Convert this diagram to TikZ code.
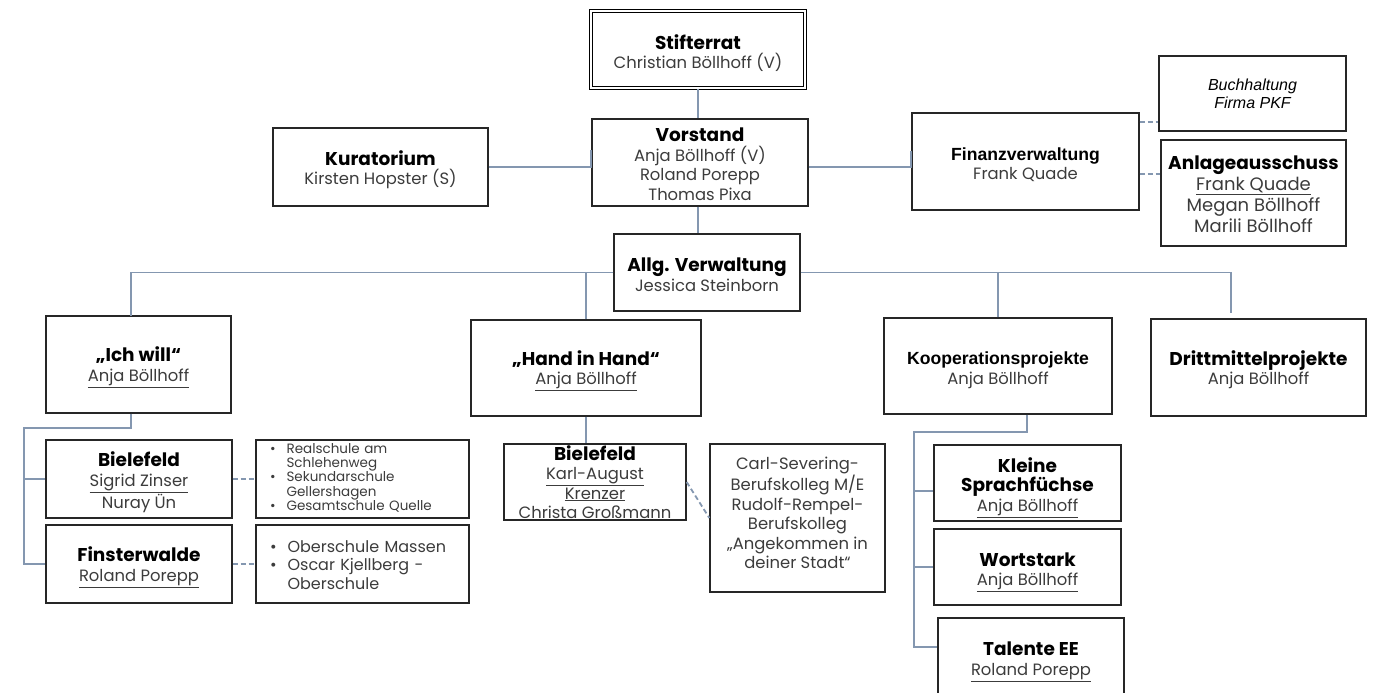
\documentclass[tikz,border=0pt]{standalone}
\usepackage{fontspec}
\setmainfont{Poppins}
\newfontfamily\arialf{Liberation Sans}
\definecolor{lnc}{HTML}{8497B0}
\definecolor{txg}{HTML}{3C3C3C}
\newcommand\tb[1]{{\fontsize{18.5}{19.5}\selectfont\bfseries\color{black}#1}}
\newcommand\ta[1]{{\arialf\fontsize{17.6}{19.5}\selectfont\bfseries\color{black}#1}}
\newcommand\uln[1]{\underline{#1}}
\newcommand\lift[1]{\rule{0pt}{#1}}
\begin{document}
\begin{tikzpicture}[x=1pt,y=-1pt,
  box/.style={draw=black!85, line width=1.3pt, fill=white, inner sep=0pt, align=center, text=txg,
    font=\fontsize{16.4}{19.5}\selectfont},
  conn/.style={draw=lnc, line width=1.8pt},
  dconn/.style={draw=lnc, line width=1.8pt, dash pattern=on 5pt off 3pt},
]
\useasboundingbox (0,0) rectangle (1400,693);
\clip (0,0) rectangle (1400,693);

% nodes
\node[box, draw=black, line width=1pt, double=white, double distance=2pt, minimum width=214, minimum height=77] (stift) at (698,49.5)
  {\lift{22pt}\tb{Stifterrat}\\Christian Böllhoff (V)};
\node[box, minimum width=216, minimum height=87] (vor) at (700,162.5)
  {\lift{17pt}\tb{Vorstand}\\Anja Böllhoff (V)\\Roland Porepp\\Thomas Pixa};
\node[box, minimum width=215, minimum height=78] (kur) at (380.5,167)
  {\lift{20pt}\tb{Kuratorium}\\Kirsten Hopster (S)};
\node[box, minimum width=227, minimum height=97] (fin) at (1025.5,161.5)
  {\lift{19pt}\ta{Finanzverwaltung}\\Frank Quade};
\node[box, minimum width=187, minimum height=75, font=\arialf\itshape\fontsize{16}{18}\selectfont, text=black] (buch) at (1252.5,93.5)
  {Buchhaltung\\Firma PKF};
\node[box, minimum width=185, minimum height=106, font=\fontsize{18}{21}\selectfont] (anl) at (1253.5,193)
  {\lift{16pt}\tb{Anlageausschuss}\\\uln{Frank Quade}\\Megan Böllhoff\\Marili Böllhoff};
\node[box, minimum width=186, minimum height=77] (allg) at (707,272.5)
  {\lift{18pt}\tb{Allg. Verwaltung}\\Jessica Steinborn};

\node[box, minimum width=185, minimum height=97] (ich) at (138.5,364.5)
  {\lift{20pt}\tb{„Ich will“}\\\uln{Anja Böllhoff}};
\node[box, minimum width=230, minimum height=96] (hih) at (586,368)
  {\lift{20pt}\tb{„Hand in Hand“}\\\uln{Anja Böllhoff}};
\node[box, minimum width=228, minimum height=96] (koop) at (998,366)
  {\lift{21pt}\ta{Kooperationsprojekte}\\Anja Böllhoff};
\node[box, minimum width=215, minimum height=97] (dritt) at (1258.5,367.5)
  {\lift{19pt}\tb{Drittmittelprojekte}\\Anja Böllhoff};

\node[box, minimum width=186, minimum height=78] (bie1) at (139,479)
  {\lift{21pt}\tb{Bielefeld}\\\uln{Sigrid Zinser}\\Nuray Ün};
\node[box, minimum width=186, minimum height=78] (fsw) at (139,564)
  {\lift{21pt}\tb{Finsterwalde}\\\uln{Roland Porepp}};
\node[box, minimum width=213, minimum height=78, text width=185, inner xsep=14pt, align=left,
      font=\fontsize{13.5}{14}\selectfont] (list1) at (362.5,479)
  {\begin{tabular}{@{}l@{\hspace{11pt}}l@{}}
   \textbullet & Realschule am\\ & Schlehenweg\\
   \textbullet & Sekundarschule\\ & Gellershagen\\
   \textbullet & Gesamtschule Quelle
   \end{tabular}};
\node[box, minimum width=213, minimum height=78, text width=185, inner xsep=14pt, align=left,
      font=\fontsize{16}{18.5}\selectfont] (list2) at (362.5,564)
  {\begin{tabular}{@{}l@{\hspace{11pt}}l@{}}
   \lift{19pt}\textbullet & Oberschule Massen\\
   \textbullet & Oscar Kjellberg -\\ & Oberschule
   \end{tabular}};

\node[box, minimum width=182, minimum height=76] (bie2) at (595,482)
  {\tb{Bielefeld}\\\uln{Karl-August}\\\uln{Krenzer}\\Christa Großmann};
\node[box, minimum width=175, minimum height=148] (carl) at (797.5,518)
  {\lift{22pt}Carl-Severing-\\Berufskolleg M/E\\Rudolf-Rempel-\\Berufskolleg\\„Angekommen in\\deiner Stadt“\\\mbox{}};

\node[box, minimum width=187, minimum height=76] (klein) at (1027.5,483)
  {\lift{24pt}\tb{Kleine}\\\tb{Sprachfüchse}\\\uln{Anja Böllhoff}};
\node[box, minimum width=187, minimum height=76] (wort) at (1027.5,567)
  {\lift{24pt}\tb{Wortstark}\\\uln{Anja Böllhoff}};
\node[box, minimum width=186, minimum height=80] (tal) at (1031,658)
  {\lift{21pt}\tb{Talente EE}\\\uln{Roland Porepp}};

% coordinates for free ends and buses
\coordinate (ichtop) at (131,316);
\coordinate (dtop) at (1231,313);
\coordinate (lbus) at (24,428);
\coordinate (rbus) at (914,432);

% connectors
\draw[conn] (stift.south) -- (stift.south |- vor.north);
\draw[conn] (vor.south -| stift.south) -- (allg.north -| stift.south);
\draw[conn] (kur.east) -- (kur.east -| vor.west) -- ++(0,-17);
\draw[conn] (vor.east |- kur.east) -- (fin.west |- kur.east) -- ++(0,-16);
\draw[dconn] ([yshift=39.5pt]fin.east) coordinate (f1) -- (f1 -| buch.west);
\draw[dconn] ([yshift=-12.5pt]fin.east) coordinate (f2) -- (f2 -| anl.west);

\draw[conn] (allg.west) -| (ichtop);
\draw[conn] (allg.east) -| (dtop);
\draw[conn] (koop.north) -- (koop.north |- allg.east);
\draw[conn] (hih.north) -- ++(0,-46);

\draw[conn] ([xshift=-7.5pt]ich.south) |- (lbus) |- (fsw.west);
\draw[conn] (lbus |- bie1.west) -- (bie1.west);
\draw[dconn] (bie1.east) -- (list1.west);
\draw[dconn] (fsw.east) -- (list2.west);

\draw[conn] (hih.south) -- (hih.south |- bie2.north);
\draw[dconn] (bie2.east) -- (carl.west);

\draw[conn] ([xshift=29pt]koop.south) |- (rbus) |- ([yshift=11pt]tal.west);
\draw[conn] (rbus |- klein.west) ++(0,8) -- ([yshift=-8pt]klein.west);
\draw[conn] (rbus |- wort.west) -- (wort.west);
\end{tikzpicture}
\end{document}
